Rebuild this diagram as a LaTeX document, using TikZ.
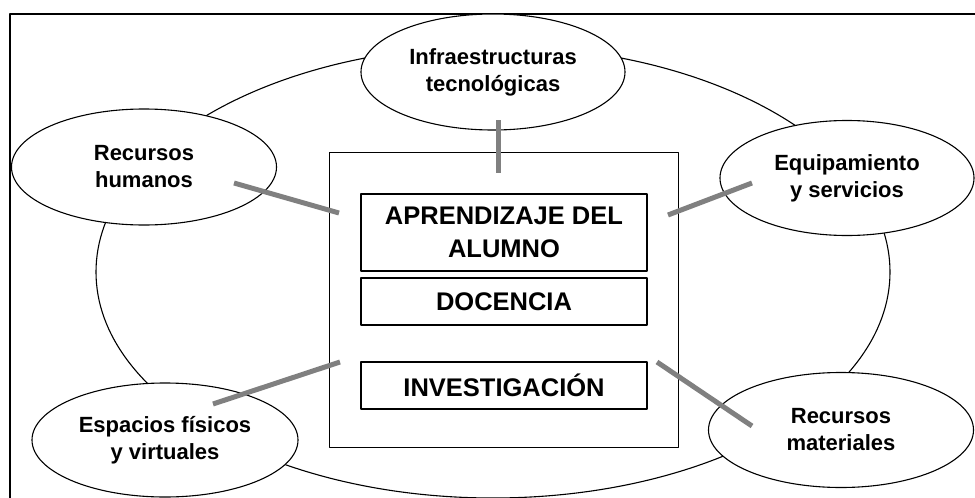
\documentclass[tikz,border=0pt]{standalone}
\usepackage{fontspec}
\setmainfont{Liberation Sans}
\usetikzlibrary{shapes.geometric,calc}
\begin{document}
\begin{tikzpicture}[x=1pt,y=-1pt,
  line join=round,
  oval/.style={ellipse, draw=black, fill=white, line width=1.1pt, inner sep=0pt,
     align=center, font=\fontsize{22}{27}\selectfont\bfseries},
  bx/.style={rectangle, draw=black, line width=1.2pt, inner sep=0pt,
     align=center, font=\fontsize{25.5}{33}\selectfont\bfseries},
  conn/.style={draw=black!50, line width=5pt}]
\useasboundingbox (0,0) rectangle (975,498);
% frame
\draw[line width=1.8pt] (10,500) -- (10,14) -- (976,14);
% large ring
\node[ellipse, draw=black, line width=1.1pt, minimum width=794pt, minimum height=452pt, inner sep=0pt] (ring) at (493,272) {};
% centre box
\node[bx, line width=1pt, minimum width=349pt, minimum height=295pt] (core) at (503.5,299.5) {};
\node[bx, minimum width=286pt, minimum height=77pt] (apr) at (504,232.5) {APRENDIZAJE DEL\\ALUMNO};
\node[bx, minimum width=286pt, minimum height=47pt] (doc) at (504,301.5) {DOCENCIA};
\node[bx, minimum width=286pt, minimum height=47pt] (inv) at (504,385.5) {INVESTIGACIÓN};
% outer ellipses
\node[oval, minimum width=264pt, minimum height=116pt] (inf) at (493,72) {Infraestructuras\\tecnológicas};
\node[oval, minimum width=265pt, minimum height=116pt] (hum) at (144,167) {Recursos\\humanos};
\node[oval, minimum width=254pt, minimum height=115pt] (equ) at (847,178) {Equipamiento\\y servicios};
\node[oval, minimum width=266pt, minimum height=114pt] (esp) at (165,440) {Espacios físicos\\y virtuales};
\node[oval, minimum width=265pt, minimum height=115pt] (mat) at (841,430) {Recursos\\materiales};
% connector end points
\coordinate (infA) at ($(inf.center)+(5,48)$);
\coordinate (infB) at (498,173);
\coordinate (humA) at ($(hum.center)+(90,16)$);
\coordinate (humB) at (339,213);
\coordinate (equA) at ($(equ.center)+(-95,5)$);
\coordinate (equB) at (668,215);
\coordinate (espA) at ($(esp.center)+(48,-36)$);
\coordinate (espB) at (340,362);
\coordinate (matA) at ($(mat.center)+(-89,-4)$);
\coordinate (matB) at (657,362);
\draw[conn] (infA) -- (infB);
\draw[conn] (humA) -- (humB);
\draw[conn] (equA) -- (equB);
\draw[conn] (espA) -- (espB);
\draw[conn] (matA) -- (matB);
\end{tikzpicture}
\end{document}
